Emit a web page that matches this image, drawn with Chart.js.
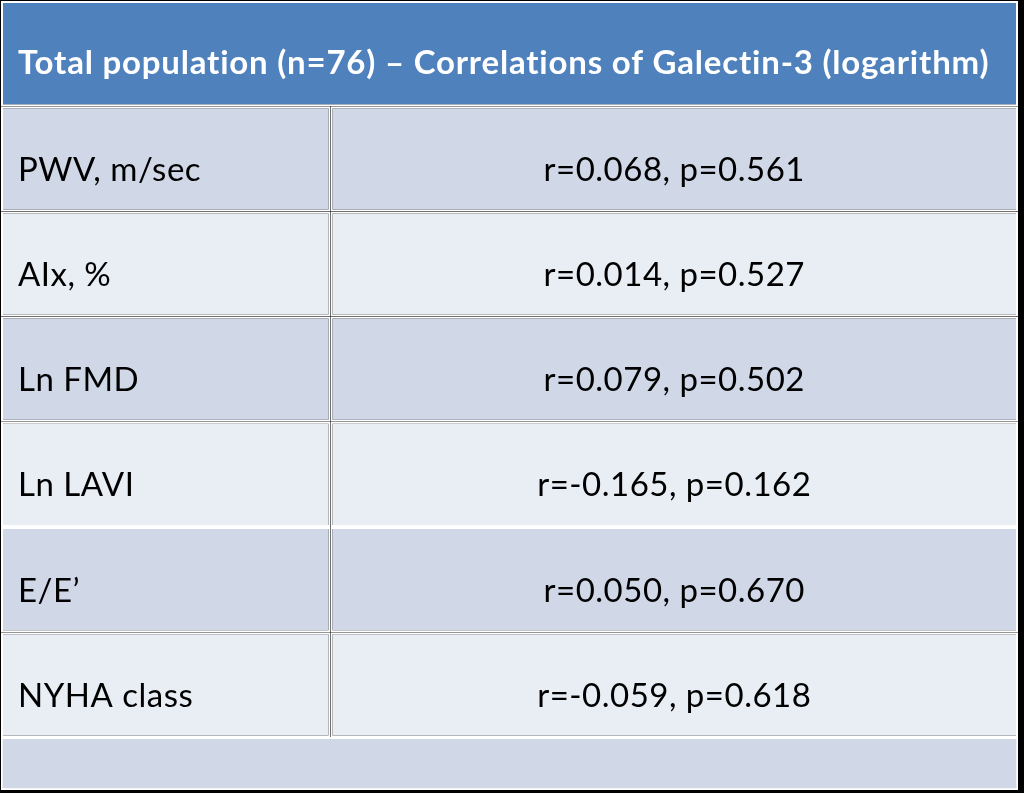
<!DOCTYPE html>
<html>
<head>
<meta charset="utf-8">
<script src="https://cdn.jsdelivr.net/npm/chart.js@4/dist/chart.umd.min.js"></script>
<style>
  html, body { margin: 0; padding: 0; background: #000; overflow: hidden; }
  canvas { display: block; }
</style>
</head>
<body>
<canvas id="myChart" width="1024" height="793"></canvas>
<script>
// table content
const title = 'Total population (n=76) \u2013 Correlations of Galectin-3 (logarithm)';
const row_labels = ['PWV, m/sec', 'AIx, %', 'Ln FMD', 'Ln LAVI', 'E/E\u2019', 'NYHA class'];
const r_values = [0.068, 0.014, 0.079, -0.165, 0.050, -0.059];
const p_values = [0.561, 0.527, 0.502, 0.162, 0.670, 0.618];

const header_color = 'rgb(79, 129, 189)';
const dark_row = 'rgb(208, 216, 232)';
const light_row = 'rgb(233, 237, 244)';
const col_split = 0.324; // first column width, share of table

const ctx = document.getElementById('myChart').getContext('2d');

// y runs in half rows: header = 0..2, data rows 2..14, empty footer 14..15
const row_y = row_labels.map((_, i) => 3 + 2 * i);
const row_colors = row_labels.map((_, i) => i % 2 === 0 ? dark_row : light_row);

const cell_style = {
    borderColor: '#ffffff',
    borderWidth: 2,
    borderSkipped: false,
    categoryPercentage: 1,
    barPercentage: 2,
    grouped: false,
};

const textPlugin = {
    id: 'cellText',
    afterDatasetsDraw(chart) {
        const c = chart.ctx;
        const x = chart.scales.x;
        const y = chart.scales.y;
        c.save();
        c.textBaseline = 'alphabetic';

        c.font = 'bold 33px Lato';
        c.letterSpacing = '0.8px';
        c.fillStyle = '#ffffff';
        c.textAlign = 'left';
        c.fillText(title, x.getPixelForValue(0) + 17, y.getPixelForValue(1) + 20);

        c.font = '33px Lato';
        c.letterSpacing = '0.5px';
        c.fillStyle = '#000000';
        row_labels.forEach((label, i) => {
            const py = y.getPixelForValue(row_y[i]) + 22;
            c.textAlign = 'left';
            c.fillText(label, x.getPixelForValue(0) + 17, py);
            c.textAlign = 'center';
            const txt = 'r=' + r_values[i].toFixed(3) + ', p=' + p_values[i].toFixed(3);
            c.fillText(txt, (x.getPixelForValue(col_split) + x.getPixelForValue(1)) / 2, py);
        });
        c.restore();
    }
};

const chart = new Chart(ctx, {
    type: 'bar',
    data: {
        datasets: [
            Object.assign({ label: 'header', data: [{ x: [0, 1], y: 1 }], backgroundColor: header_color }, cell_style),
            Object.assign({ label: 'names', data: row_y.map(v => ({ x: [0, col_split], y: v })), backgroundColor: row_colors }, cell_style),
            Object.assign({ label: 'values', data: row_y.map(v => ({ x: [col_split, 1], y: v })), backgroundColor: row_colors }, cell_style),
            Object.assign({ label: 'footer', data: [{ x: [0, 1], y: 14.5 }], backgroundColor: dark_row }, cell_style, { barPercentage: 1 }),
        ]
    },
    options: {
        indexAxis: 'y',
        responsive: false,
        animation: false,
        layout: { padding: { left: 1, top: 1, right: 6, bottom: 3 } },
        plugins: { legend: { display: false }, tooltip: { enabled: false } },
        scales: {
            x: { type: 'linear', min: 0, max: 1, offset: false, display: false },
            y: { type: 'linear', min: 0, max: 15, reverse: true, offset: false, display: false,
                 ticks: { stepSize: 1, maxTicksLimit: 20 } }
        }
    },
    plugins: [textPlugin]
});
</script>
</body>
</html>
